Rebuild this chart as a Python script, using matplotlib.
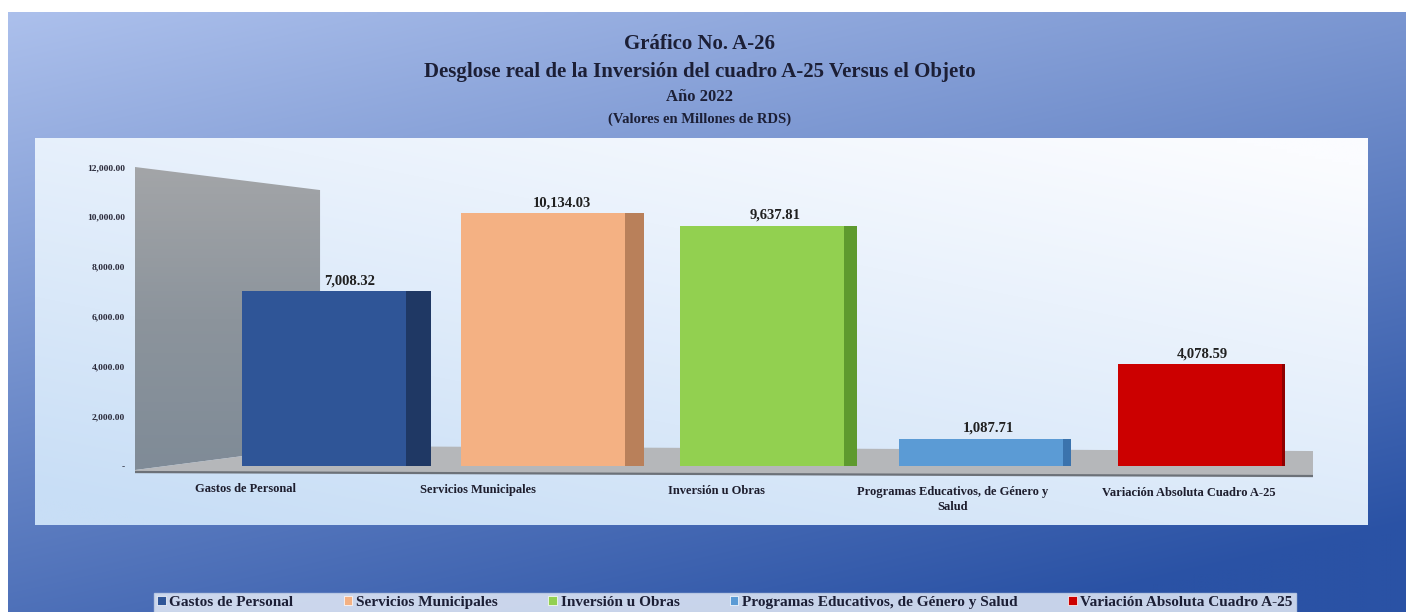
import numpy as np
import matplotlib
matplotlib.use("Agg")
import matplotlib.pyplot as plt
from matplotlib.patches import Polygon, Patch
from matplotlib.transforms import ScaledTranslation
from matplotlib.colors import LinearSegmentedColormap

# ---------------- data ----------------
categories = ["Gastos de Personal", "Servicios Municipales", "Inversión u Obras",
              "Programas Educativos, de Género y Salud", "Variación Absoluta Cuadro A-25"]
tick_labels = ["Gastos de Personal", "Servicios Municipales", "Inversión u Obras",
               "Programas Educativos, de Género y\nSalud", "Variación Absoluta Cuadro A-25"]
values = [7008.32, 10134.03, 9637.81, 1087.71, 4078.59]
value_labels = ["7,008.32", "10,134.03", "9,637.81", "1,087.71", "4,078.59"]
y_ticks = [0, 2000, 4000, 6000, 8000, 10000, 12000]

title_lines = ["Gráfico No. A-26",
               "Desglose real de la Inversión del cuadro A-25 Versus el Objeto",
               "Año 2022",
               "(Valores en Millones de RDS)"]

# ---------------- style ----------------
front_colors = ["#2f5597", "#f4b183", "#92d050", "#5b9bd5", "#cc0000"]
side_colors = ["#1f3864", "#b9805a", "#5e9a2e", "#3b73ad", "#8f0000"]
serif = "Liberation Serif"
txt_color = "#1c1f36"

W, H = 1406, 612
fig = plt.figure(figsize=(W / 100, H / 100), dpi=100)
fig.patch.set_facecolor("white")

bg = fig.add_axes([0, 0, 1, 1])
bg.set_xlim(0, W)
bg.set_ylim(H, 0)
bg.axis("off")

# outer blue gradient
ny, nx = 120, 240
yy, xx = np.mgrid[0:1:ny * 1j, 0:1:nx * 1j]
t = np.clip(0.72 * yy + 0.38 * xx, 0, 1)
c0 = np.array([172, 192, 236]) / 255
c1 = np.array([42, 82, 165]) / 255
outer = c0[None, None, :] * (1 - t[..., None]) + c1[None, None, :] * t[..., None]
bg.imshow(outer, extent=(8, W, H, 12), aspect="auto", zorder=0, interpolation="bilinear")

# inner panel gradient
t2 = np.clip(0.65 * yy + 0.45 * (1 - xx) - 0.05, 0, 1)
p0 = np.array([251, 252, 255]) / 255
p1 = np.array([200, 222, 246]) / 255
inner = p0[None, None, :] * (1 - t2[..., None]) + p1[None, None, :] * t2[..., None]
bg.imshow(inner, extent=(35, 1368, 525, 138), aspect="auto", zorder=1, interpolation="bilinear")

# titles
title_y = [44, 72, 97, 119]
title_fs = [15, 15, 12, 10.5]
for line, yv, fs in zip(title_lines, title_y, title_fs):
    bg.text(W / 2 - 3, yv, line, ha="center", va="center", fontsize=fs,
            fontweight="bold", family=serif, color=txt_color, zorder=3)

# ---------------- main axes ----------------
ax_left, ax_right, ax_top, ax_bot = 135, 1313, 167, 478.5
ax = fig.add_axes([ax_left / W, 1 - ax_bot / H, (ax_right - ax_left) / W, (ax_bot - ax_top) / H])
ax.set_xlim(-0.863, 4.516)
ax.set_ylim(-500, 12000)
ax.patch.set_alpha(0)
for s in ax.spines.values():
    s.set_visible(False)

# side wall with gradient
wall = Polygon([(-0.863, -160), (-0.863, 12000), (-0.018, 11075), (-0.018, 803)],
               closed=True, facecolor="none", edgecolor="none", transform=ax.transData)
ax.add_patch(wall)
wg = np.linspace(0, 1, 100)[:, None] * np.ones((1, 4))
wall_cmap = LinearSegmentedColormap.from_list("wall", ["#a3a5a8", "#8c949c", "#7f8b97"])
im = ax.imshow(wg, extent=(-0.863, -0.018, -241, 12000), aspect="auto", cmap=wall_cmap,
               origin="upper", zorder=1)
im.set_clip_path(wall)

# floor
floor = Polygon([(-0.863, -160), (-0.018, 803), (4.516, 602), (4.516, -401), (-0.863, -241)],
                closed=True, facecolor="#b5b7ba", edgecolor="none", zorder=1.5)
ax.add_patch(floor)
ax.plot([-0.863, 4.516], [-241, -401], color="#6c7178", lw=1.6, zorder=1.6)

# bars (front + side faces)
x = np.arange(len(values))
bar_w = 0.75
depth = [0.115, 0.085, 0.06, 0.035, 0.012]
ax.bar(x + bar_w / 2, values, width=depth, align="edge", color=side_colors, zorder=3)
ax.bar(x, values, width=bar_w, color=front_colors, zorder=4)

for i in range(len(values)):
    ax.annotate(value_labels[i], (x[i] + depth[i], values[i]), xytext=(0, 3),
                textcoords="offset points", ha="center", va="bottom", fontsize=10.5,
                fontweight="bold", family=serif, color="#202020", zorder=6)

# ticks
ax.set_yticks(y_ticks)
ax.set_yticklabels(["-" if v == 0 else f"{v:,.2f}" for v in y_ticks],
                   fontsize=6.8, family=serif, fontweight="bold", color="#2a2a3a")
ax.tick_params(axis="y", length=0, pad=7)
ax.set_xticks(x)
ax.set_xticklabels(tick_labels, fontsize=9, family=serif, fontweight="bold",
                   color="#1e1e2e", linespacing=1.4)
ax.tick_params(axis="x", length=0, pad=3)
label_shift = [(-78, 0), (-65, 1), (-46, 2), (-28, 3), (-11, 4)]
for lab, (dxp, dyp) in zip(ax.get_xticklabels(), label_shift):
    lab.set_transform(lab.get_transform() + ScaledTranslation(dxp / 100, -dyp / 100, fig.dpi_scale_trans))

# legend
handles = [Patch(facecolor=c, edgecolor="white", linewidth=0.5) for c in front_colors]
leg = fig.legend(handles, categories, loc="upper center", bbox_to_anchor=(725 / W, 1 - 585 / H),
                 ncol=5, frameon=True, fancybox=False, handlelength=0.55, handleheight=0.55,
                 handletextpad=0.25, columnspacing=3.3, borderpad=0.2,
                 prop={"family": serif, "weight": "bold", "size": 11})
leg.get_frame().set_facecolor("#eef3fb")
leg.get_frame().set_edgecolor("#c5d2e8")
for tx in leg.get_texts():
    tx.set_color(txt_color)

fig.savefig("out.png", dpi=100)
